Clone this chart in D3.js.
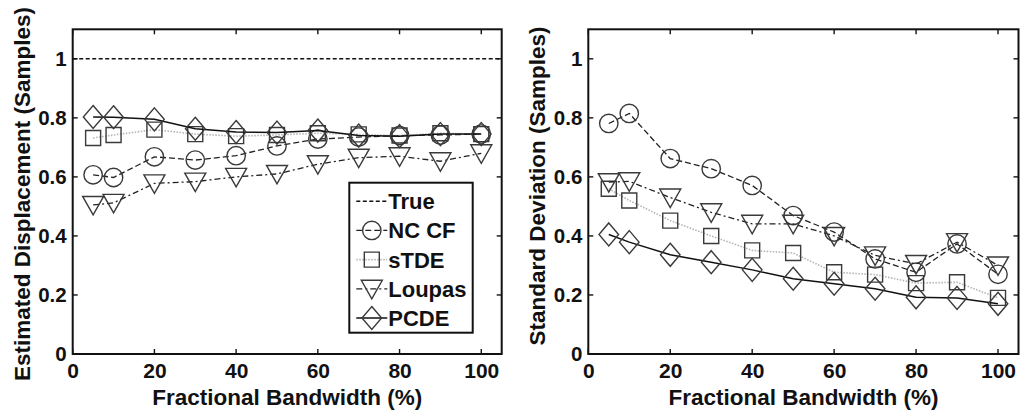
<!DOCTYPE html>
<html>
<head>
<meta charset="utf-8">
<script src="https://cdn.jsdelivr.net/npm/d3@7"></script>
<style>
  html, body { margin: 0; padding: 0; background: #fff; }
  svg { display: block; }
  text { font-family: "Liberation Sans", Arial, Helvetica, sans-serif; font-weight: bold; fill: #111; }
</style>
</head>
<body>
<svg id="chart" width="1021" height="417"></svg>
<script>
// Fractional bandwidth (%) at which each estimator was evaluated
const bandwidth = [5, 10, 20, 30, 40, 50, 60, 70, 80, 90, 100];

// Mean estimated displacement (samples)
const trueDisplacement = 1;
const ncMean     = [0.607, 0.598, 0.668, 0.657, 0.672, 0.705, 0.728, 0.735, 0.740, 0.742, 0.745];
const stdeMean   = [0.732, 0.742, 0.760, 0.745, 0.738, 0.742, 0.748, 0.744, 0.740, 0.748, 0.745];
const loupasMean = [0.505, 0.512, 0.578, 0.584, 0.600, 0.610, 0.643, 0.665, 0.670, 0.653, 0.680];
const pcdeMean   = [0.803, 0.802, 0.795, 0.763, 0.752, 0.750, 0.757, 0.740, 0.738, 0.745, 0.745];

// Standard deviation of the estimate (samples)
const ncStd     = [0.781, 0.815, 0.662, 0.628, 0.571, 0.469, 0.413, 0.322, 0.277, 0.373, 0.270];
const stdeStd   = [0.560, 0.520, 0.452, 0.400, 0.351, 0.342, 0.277, 0.269, 0.240, 0.243, 0.190];
const loupasStd = [0.582, 0.585, 0.530, 0.480, 0.441, 0.441, 0.400, 0.334, 0.305, 0.379, 0.300];
const pcdeStd   = [0.405, 0.379, 0.336, 0.311, 0.285, 0.255, 0.238, 0.221, 0.192, 0.190, 0.170];

// Axis ticks
const xTicks = [0, 20, 40, 60, 80, 100];
const yTicks = [0, 0.2, 0.4, 0.6, 0.8, 1];
const yTickLabels = ["0", "0.2", "0.4", "0.6", "0.8", "1"];

const seriesNames = ["NC CF", "sTDE", "Loupas", "PCDE"];

// Line and marker style per estimator
const styles = {
  "True":   { stroke: "#111", width: 1.5, dash: "4,2.5", marker: null },
  "NC CF":  { stroke: "#222", width: 1.3, dash: "6,3",   marker: "circle" },
  "sTDE":   { stroke: "#b4b4b4", width: 1.6, dash: "1.5,1.5", marker: "square" },
  "Loupas": { stroke: "#222", width: 1.3, dash: "6,3,2,3", marker: "triangle" },
  "PCDE":   { stroke: "#111", width: 1.5, dash: null,    marker: "diamond" }
};
const markerStroke = "#3a3a3a";

const svg = d3.select("#chart");

function markerPath(kind) {
  const p = d3.path();
  if (kind === "circle") {
    p.arc(0, 0, 9.2, 0, 2 * Math.PI);
  } else if (kind === "square") {
    p.rect(-7.5, -7.5, 15, 15);
  } else if (kind === "triangle") {
    p.moveTo(-10.5, -8.5); p.lineTo(10.5, -8.5); p.lineTo(0, 10); p.closePath();
  } else if (kind === "diamond") {
    p.moveTo(0, -11.5); p.lineTo(9.8, 0); p.lineTo(0, 11.5); p.lineTo(-9.8, 0); p.closePath();
  }
  return p.toString();
}

function drawPanel(cfg) {
  const x = d3.scaleLinear().domain([0, 105]).range([cfg.left, cfg.right]);
  const y = d3.scaleLinear().domain([0, 1.1]).range([cfg.bottom, cfg.top]);
  const g = svg.append("g");

  // data series
  const plot = g.append("g");
  if (cfg.trueLine) {
    const st = styles["True"];
    plot.append("path")
      .attr("d", d3.line()([[x(0), y(trueDisplacement)], [x(105), y(trueDisplacement)]]))
      .attr("fill", "none").attr("stroke", st.stroke)
      .attr("stroke-width", st.width).attr("stroke-dasharray", st.dash);
  }
  cfg.series.forEach((vals, i) => {
    const st = styles[seriesNames[i]];
    const pts = bandwidth.map((b, k) => [b, vals[k]]);
    const line = d3.line().x(d => x(d[0])).y(d => y(d[1]));
    plot.append("path").attr("d", line(pts))
      .attr("fill", "none").attr("stroke", st.stroke)
      .attr("stroke-width", st.width)
      .attr("stroke-dasharray", st.dash);
    plot.selectAll(null).data(pts).enter().append("path")
      .attr("d", markerPath(st.marker))
      .attr("transform", d => `translate(${x(d[0])},${y(d[1])})`)
      .attr("fill", "none").attr("stroke", markerStroke).attr("stroke-width", 1.4);
  });

  // axes: labels from d3 axes, inward tick marks on all four sides
  const tickLen = 5;
  const bottomAxis = d3.axisBottom(x).tickValues(xTicks).tickSize(0).tickPadding(9).tickFormat(d3.format("d"));
  const leftAxis = d3.axisLeft(y).tickValues(yTicks).tickSize(0).tickPadding(6)
    .tickFormat((d, i) => yTickLabels[i]);

  const ga = g.append("g");
  const bx = ga.append("g").attr("transform", `translate(0,${cfg.bottom})`).call(bottomAxis);
  const ly = ga.append("g").attr("transform", `translate(${cfg.left},0)`).call(leftAxis);
  [bx, ly].forEach(s => {
    s.select(".domain").remove();
    s.selectAll("text").attr("fill", "#111");
  });
  bx.selectAll("text").style("font-size", "21px").attr("dy", "0.71em");
  ly.selectAll("text").style("font-size", "20.5px");

  const tk = ga.append("g").attr("stroke", "#111").attr("stroke-width", 1.4);
  xTicks.forEach(v => {
    tk.append("line").attr("x1", x(v)).attr("x2", x(v)).attr("y1", cfg.bottom).attr("y2", cfg.bottom - tickLen);
    tk.append("line").attr("x1", x(v)).attr("x2", x(v)).attr("y1", cfg.top).attr("y2", cfg.top + tickLen);
  });
  yTicks.forEach(v => {
    tk.append("line").attr("y1", y(v)).attr("y2", y(v)).attr("x1", cfg.left).attr("x2", cfg.left + tickLen);
    tk.append("line").attr("y1", y(v)).attr("y2", y(v)).attr("x1", cfg.right).attr("x2", cfg.right - tickLen);
  });

  // frame
  ga.append("rect")
    .attr("x", cfg.left).attr("y", cfg.top)
    .attr("width", cfg.right - cfg.left).attr("height", cfg.bottom - cfg.top)
    .attr("fill", "none").attr("stroke", "#111").attr("stroke-width", 2);

  // axis titles
  g.append("text")
    .attr("x", (cfg.left + cfg.right) / 2).attr("y", 405)
    .attr("text-anchor", "middle").style("font-size", "22.5px")
    .text("Fractional Bandwidth (%)");
  g.append("text")
    .attr("transform", `translate(${cfg.yTitleX},${cfg.yTitleY}) rotate(-90)`)
    .attr("text-anchor", "middle").style("font-size", "22.5px")
    .text(cfg.yTitle);

  return { x, y };
}

drawPanel({
  left: 72.7, right: 501.7, top: 29.3, bottom: 354,
  yTitle: "Estimated Displacement (Samples)", yTitleX: 30, yTitleY: 194,
  trueLine: true,
  series: [ncMean, stdeMean, loupasMean, pcdeMean]
});

drawPanel({
  left: 588.3, right: 1018.5, top: 29.3, bottom: 354,
  yTitle: "Standard Deviation (Samples)", yTitleX: 545, yTitleY: 186,
  trueLine: false,
  series: [ncStd, stdeStd, loupasStd, pcdeStd]
});

// legend in the left panel
const legend = svg.append("g").attr("transform", "translate(349.3,182.7)");
legend.append("rect").attr("width", 123.4).attr("height", 150)
  .attr("fill", "#fff").attr("stroke", "#111").attr("stroke-width", 2);
const legendEntries = ["True"].concat(seriesNames);
legendEntries.forEach((name, i) => {
  const st = styles[name];
  const cy = 18.5 + i * 29.2;
  const row = legend.append("g").attr("transform", `translate(0,${cy})`);
  row.append("line").attr("x1", 7).attr("x2", 38).attr("y1", 0).attr("y2", 0)
    .attr("stroke", st.stroke).attr("stroke-width", st.width)
    .attr("stroke-dasharray", st.dash);
  if (st.marker) {
    row.append("path").attr("d", markerPath(st.marker))
      .attr("transform", "translate(22.5,0)")
      .attr("fill", "none").attr("stroke", markerStroke).attr("stroke-width", 1.4);
  }
  row.append("text").attr("x", 39).attr("y", 0).attr("dy", "0.36em")
    .style("font-size", "22px").text(name);
});
</script>
</body>
</html>
